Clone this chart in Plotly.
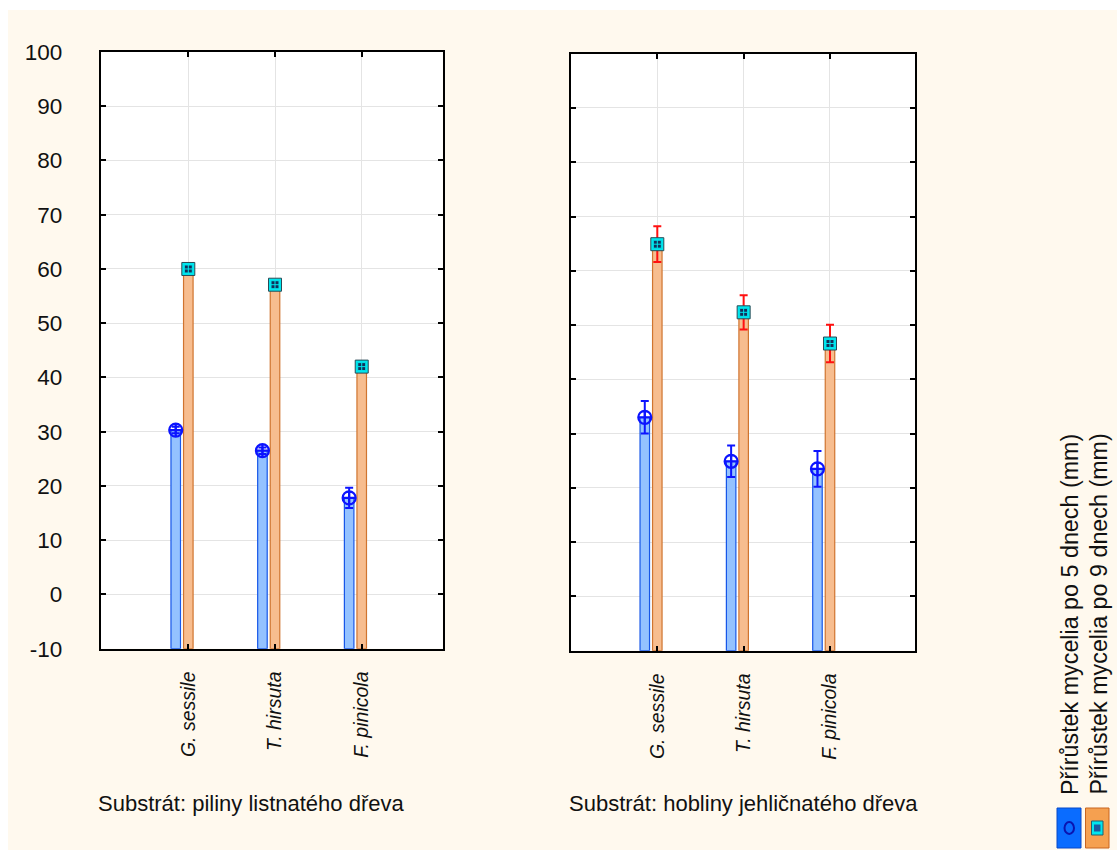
import plotly.graph_objects as go

# ---------------- data ----------------
categories = ["G. sessile", "T. hirsuta", "F. pinicola"]
series_names = ["Přírůstek mycelia po 5 dnech (mm)", "Přírůstek mycelia po 9 dnech (mm)"]
panel_titles = ["Substrát: piliny listnatého dřeva", "Substrát: hobliny jehličnatého dřeva"]

p1_day5 = [30.3, 26.5, 17.8]
p1_day5_err = [0.6, 0.6, 1.85]
p1_day9 = [60.0, 57.1, 42.0]
p1_day9_err = [0.4, 0.4, 0.4]

p2_day5 = [33.0, 24.9, 23.5]
p2_day5_err = [3.0, 2.9, 3.3]
p2_day9 = [64.9, 52.35, 46.6]
p2_day9_err = [3.3, 3.15, 3.45]

y_ticks = [-10, 0, 10, 20, 30, 40, 50, 60, 70, 80, 90, 100]
y_tick_labels = ["-10", "0", "10", "20", "30", "40", "50", "60", "70", "80", "90", "100"]
y_min, y_max = -10, 100

# ---------------- styling ----------------
W, H = 1117, 850
CREAM = "#FFF9EE"
FONT = "Arial, Liberation Sans, sans-serif"
BLUE_FILL = "#94c2ff"
BLUE_LINE = "#1656e8"
ORANGE_FILL = "#f7bd8f"
ORANGE_LINE = "#d0742f"
BLUE_MARK = "#0c14ff"
CYAN = "#00e6ee"
NAVY = "#10305a"
RED = "#ff1010"

def px_x(p):
    return p / W

def px_y(p):
    return 1 - p / H

pos = [i + 1 for i in range(len(categories))]
blue_off = -0.145
bar_w = 0.11

fig = go.Figure()

panels = [
    ("x", "y", p1_day5, p1_day5_err, p1_day9, p1_day9_err),
    ("x2", "y2", p2_day5, p2_day5_err, p2_day9, p2_day9_err),
]

for xa, ya, d5, e5, d9, e9 in panels:
    xb = [p + blue_off for p in pos]
    fig.add_trace(go.Bar(
        x=xb, y=[v - y_min for v in d5], base=y_min, width=bar_w,
        marker=dict(color=BLUE_FILL, line=dict(color=BLUE_LINE, width=1.2)),
        xaxis=xa, yaxis=ya, showlegend=False, hoverinfo="skip"))
    fig.add_trace(go.Bar(
        x=pos, y=[v - y_min for v in d9], base=y_min, width=bar_w,
        marker=dict(color=ORANGE_FILL, line=dict(color=ORANGE_LINE, width=1.2)),
        xaxis=xa, yaxis=ya, showlegend=False, hoverinfo="skip"))
    fig.add_trace(go.Scatter(
        x=xb, y=d5, mode="markers",
        marker=dict(symbol="circle-cross-open", size=13, color=BLUE_MARK,
                    line=dict(width=2.2, color=BLUE_MARK)),
        error_y=dict(type="data", array=e5, visible=True, color=BLUE_MARK,
                     thickness=2, width=4),
        xaxis=xa, yaxis=ya, showlegend=False))
    fig.add_trace(go.Scatter(
        x=pos, y=d9, mode="markers",
        marker=dict(symbol="square", size=13, color=CYAN,
                    line=dict(width=1, color="#2a4a55")),
        error_y=dict(type="data", array=e9, visible=True, color=RED,
                     thickness=2, width=4),
        xaxis=xa, yaxis=ya, showlegend=False))
    fig.add_trace(go.Scatter(
        x=pos, y=d9, mode="markers",
        marker=dict(symbol="square-cross", size=8, color=NAVY,
                    line=dict(width=1, color=CYAN)),
        xaxis=xa, yaxis=ya, showlegend=False, hoverinfo="skip"))

axis_common = dict(
    showline=True, linewidth=2, linecolor="black", mirror="ticks",
    ticks="inside", ticklen=5, tickwidth=2, tickcolor="black",
    showgrid=True, gridcolor="#e4e4e4", gridwidth=1,
    zeroline=False, automargin=False,
)

xtick = dict(tickmode="array", tickvals=pos,
             ticktext=["<i>%s</i>" % c for c in categories],
             tickangle=-90, tickfont=dict(family=FONT, size=19.5, color="#111"),
             ticklabelstandoff=13)

fig.update_layout(
    width=W, height=H,
    margin=dict(l=0, r=0, t=0, b=0),
    paper_bgcolor=CREAM, plot_bgcolor="white",
    barmode="overlay", showlegend=False,
    font=dict(family=FONT, color="#111"),
    xaxis=dict(domain=[px_x(100.7), px_x(442.7)], range=[-0.0104, 3.934],
               anchor="y", **xtick, **axis_common),
    yaxis=dict(domain=[px_y(648.7), px_y(52)], range=[y_min, y_max],
               tickmode="array", tickvals=y_ticks, ticktext=y_tick_labels,
               tickfont=dict(family=FONT, size=22.5, color="#111"),
               ticklabelstandoff=32, anchor="x", **axis_common),
    xaxis2=dict(domain=[px_x(570.7), px_x(915.3)], range=[-0.003, 3.988],
                anchor="y2", **xtick, **axis_common),
    yaxis2=dict(domain=[px_y(650.7), px_y(53.7)], range=[y_min, y_max],
                tickmode="array", tickvals=y_ticks, showticklabels=False,
                anchor="x2", **axis_common),
)

shapes = []
shapes.append(dict(type="rect", xref="paper", yref="paper", x0=0, x1=1,
                   y0=px_y(10), y1=1, fillcolor="white", line=dict(width=0), layer="below"))
shapes.append(dict(type="rect", xref="paper", yref="paper", x0=0, x1=px_x(8),
                   y0=0, y1=1, fillcolor="white", line=dict(width=0), layer="below"))

# legend swatches
shapes.append(dict(type="rect", xref="paper", yref="paper",
                   x0=px_x(1057), x1=px_x(1081), y0=px_y(848), y1=px_y(808),
                   fillcolor="#0a6cff", line=dict(color="#0848c8", width=1)))
shapes.append(dict(type="circle", xref="paper", yref="paper",
                   x0=px_x(1064.5), x1=px_x(1074), y0=px_y(834), y1=px_y(822),
                   fillcolor="rgba(0,0,0,0)", line=dict(color="#0a14b0", width=2)))
shapes.append(dict(type="rect", xref="paper", yref="paper",
                   x0=px_x(1085.5), x1=px_x(1109), y0=px_y(848), y1=px_y(808),
                   fillcolor="#f5a050", line=dict(color="#c8641e", width=1)))
shapes.append(dict(type="rect", xref="paper", yref="paper",
                   x0=px_x(1091.5), x1=px_x(1103), y0=px_y(835), y1=px_y(821),
                   fillcolor=CYAN, line=dict(color="#206070", width=1)))
shapes.append(dict(type="rect", xref="paper", yref="paper",
                   x0=px_x(1094), x1=px_x(1100.5), y0=px_y(831.5), y1=px_y(824.5),
                   fillcolor="#1a5aa0", line=dict(width=0)))

annotations = []
for t, xl in zip(panel_titles, [96, 567]):
    annotations.append(dict(text=t, xref="paper", yref="paper",
                            x=px_x(xl), y=px_y(803), xanchor="left", yanchor="middle",
                            showarrow=False, font=dict(family=FONT, size=22, color="#111")))
for name, xc in zip(series_names, [1069.5, 1098]):
    annotations.append(dict(text=name, xref="paper", yref="paper",
                            x=px_x(xc), y=px_y(797), xanchor="center", yanchor="bottom",
                            textangle=-90, showarrow=False,
                            font=dict(family=FONT, size=23.3, color="#111")))

fig.update_layout(shapes=shapes, annotations=annotations)

fig.write_html("out.html")
